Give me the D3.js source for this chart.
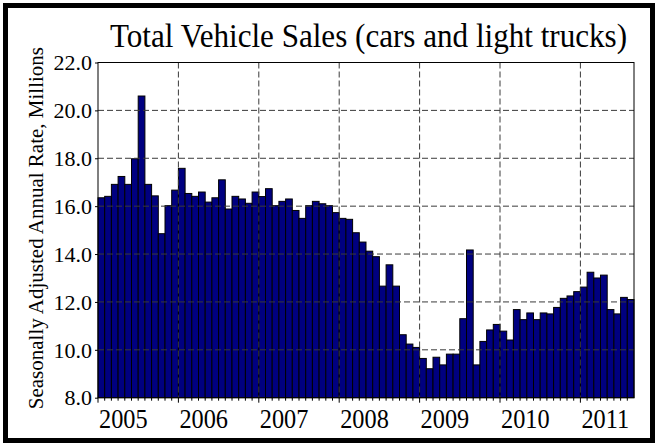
<!DOCTYPE html>
<html>
<head>
<meta charset="utf-8">
<script src="https://cdn.jsdelivr.net/npm/d3@7"></script>
<style>
  body { margin: 0; background: #fff; }
  svg { display: block; }
  text { font-family: "Liberation Serif", "Times New Roman", serif; fill: #000; }
</style>
</head>
<body>
<div id="wrapper"></div>
<script>
// monthly data, Jan 2005 - Aug 2011 (SAAR, millions)
const firstMonth = new Date(2005, 0, 1);
const sales2005 = [16.35, 16.41, 16.91, 17.24, 16.91, 17.98, 20.6, 16.91, 16.43, 14.85, 16.02, 16.67];
const sales2006 = [17.58, 16.53, 16.41, 16.59, 16.17, 16.35, 17.1, 15.88, 16.41, 16.3, 16.12, 16.59];
const sales2007 = [16.4, 16.73, 16.02, 16.2, 16.3, 15.82, 15.49, 16.02, 16.2, 16.1, 16.02, 15.73];
const sales2008 = [15.49, 15.45, 14.89, 14.5, 14.12, 13.89, 12.66, 13.55, 12.66, 10.63, 10.24, 10.1];
const sales2009 = [9.64, 9.21, 9.69, 9.37, 9.82, 9.82, 11.3, 14.17, 9.37, 10.35, 10.83, 11.06];
const sales2010 = [10.78, 10.41, 11.68, 11.26, 11.54, 11.26, 11.54, 11.5, 11.77, 12.15, 12.25, 12.43];
const sales2011 = [12.62, 13.24, 13.0, 13.12, 11.68, 11.5, 12.19, 12.1];

const yTicks = [8, 10, 12, 14, 16, 18, 20, 22];
const yearLabels = ["2005", "2006", "2007", "2008", "2009", "2010", "2011"];

const serif = '"Liberation Serif", "Times New Roman", serif';

const values = [].concat(sales2005, sales2006, sales2007, sales2008, sales2009, sales2010, sales2011);
const months = d3.timeMonth.range(firstMonth, d3.timeMonth.offset(firstMonth, values.length));
const dataset = months.map((m, i) => ({ month: m, value: values[i] }));

const fmtKey = d3.timeFormat("%Y-%m");
const xAccessor = (d) => fmtKey(d.month);
const yAccessor = (d) => d.value;

let dimensions = {
  width: 658,
  height: 446,
  margin: { top: 62.5, right: 24, bottom: 48.3, left: 98 },
};
dimensions.boundedWidth = dimensions.width - dimensions.margin.left - dimensions.margin.right;
dimensions.boundedHeight = dimensions.height - dimensions.margin.top - dimensions.margin.bottom;

const wrapper = d3.select("#wrapper")
  .append("svg")
  .attr("width", dimensions.width)
  .attr("height", dimensions.height)
  .attr("font-family", serif);

// outer frame
wrapper.append("rect")
  .attr("x", 5.5).attr("y", 5.5)
  .attr("width", 647).attr("height", 435)
  .attr("fill", "none")
  .attr("stroke", "#000")
  .attr("stroke-width", 5);

const bounds = wrapper.append("g")
  .attr("transform", `translate(${dimensions.margin.left},${dimensions.margin.top})`);

const xScale = d3.scaleBand()
  .domain(dataset.map(xAccessor))
  .range([0, dimensions.boundedWidth])
  .padding(0);

const yScale = d3.scaleLinear()
  .domain([8, 22])
  .range([dimensions.boundedHeight, 0]);

// bars
bounds.append("g")
  .selectAll("rect")
  .data(dataset)
  .join("rect")
  .attr("x", (d) => xScale(xAccessor(d)))
  .attr("width", xScale.bandwidth())
  .attr("y", (d) => yScale(yAccessor(d)))
  .attr("height", (d) => yScale(8) - yScale(yAccessor(d)))
  .attr("fill", "#000080")
  .attr("stroke", "#000")
  .attr("stroke-width", 1);

// grid (drawn over bars, old matplotlib style)
const januaries = yearLabels.map((y) => y + "-01");
const grid = bounds.append("g")
  .attr("stroke", "#3a3a3a")
  .attr("stroke-width", 1)
  .attr("stroke-dasharray", "6,3");
grid.selectAll(".hgrid")
  .data(yTicks.slice(1, -1))
  .join("line")
  .attr("x1", 0).attr("x2", dimensions.boundedWidth)
  .attr("y1", (d) => yScale(d)).attr("y2", (d) => yScale(d));
grid.selectAll(".vgrid")
  .data(januaries.slice(1))
  .join("line")
  .attr("x1", (d) => xScale(d)).attr("x2", (d) => xScale(d))
  .attr("y1", 0).attr("y2", dimensions.boundedHeight);

// axes frame
bounds.append("rect")
  .attr("width", dimensions.boundedWidth)
  .attr("height", dimensions.boundedHeight)
  .attr("fill", "none")
  .attr("stroke", "#000")
  .attr("stroke-width", 1);

// y axis
const yAxisGenerator = d3.axisLeft(yScale)
  .tickValues(yTicks)
  .tickFormat(d3.format(".1f"))
  .tickSize(3)
  .tickPadding(3);
const yAxis = bounds.append("g").call(yAxisGenerator)
  .attr("font-family", serif)
  .attr("font-size", 22);
yAxis.select(".domain").remove();
yAxis.selectAll("text")
  .style("font-family", serif)
  .style("font-size", "22px")
  .attr("dy", "0.33em");

// x axis: monthly minor ticks, yearly major ticks with labels
const xAxis = bounds.append("g")
  .attr("transform", `translate(0,${dimensions.boundedHeight})`);
xAxis.selectAll("line")
  .data(dataset)
  .join("line")
  .attr("x1", (d) => xScale(xAccessor(d))).attr("x2", (d) => xScale(xAccessor(d)))
  .attr("y1", 0)
  .attr("y2", (d) => (d.month.getMonth() === 0 ? 5 : 3))
  .attr("stroke", "#000");
xAxis.selectAll("text")
  .data(yearLabels)
  .join("text")
  .attr("x", (d) => xScale(d + "-01") + 1)
  .attr("y", 30)
  .style("font-family", serif)
  .style("font-size", "27px")
  .text((d) => d)
  .each(function () {
    const w = this.getComputedTextLength();
    d3.select(this).attr("textLength", w * 0.9).attr("lengthAdjust", "spacingAndGlyphs");
  });

// y label
wrapper.append("text")
  .attr("transform", `translate(43,${dimensions.margin.top + dimensions.boundedHeight / 2 - 2}) rotate(-90)`)
  .attr("text-anchor", "middle")
  .style("font-family", serif)
  .style("font-size", "21px")
  .text("Seasonally Adjusted Annual Rate, Millions");

// title
const title = wrapper.append("text")
  .attr("x", 110)
  .attr("y", 47)
  .style("font-family", serif)
  .style("font-size", "33px")
  .text("Total Vehicle Sales (cars and light trucks)");
title.attr("textLength", 517).attr("lengthAdjust", "spacingAndGlyphs");
</script>
</body>
</html>
